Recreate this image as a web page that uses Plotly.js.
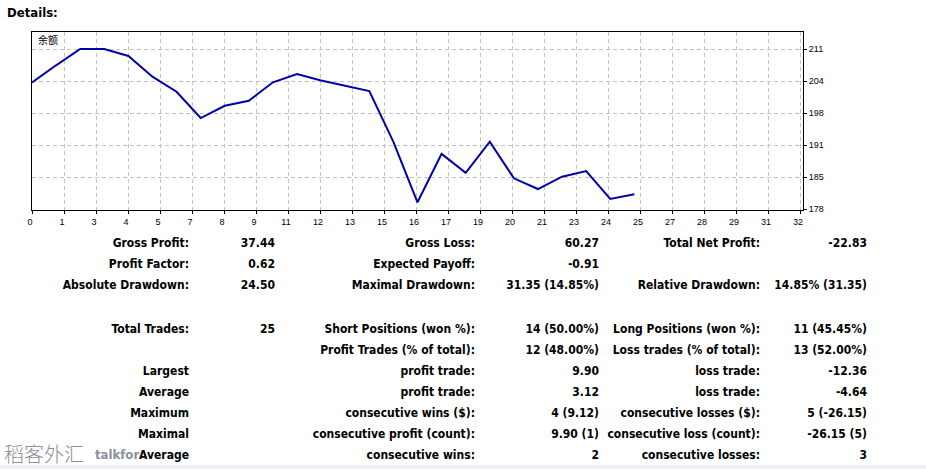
<!DOCTYPE html>
<html>
<head>
<meta charset="utf-8">
<script src="https://cdn.plot.ly/plotly-3.0.1.min.js"></script>
<style>
  html, body { margin:0; padding:0; background:#ffffff; }
  #page { position:relative; width:926px; height:469px; overflow:hidden; background:#fff; }
  #chart { position:absolute; left:0; top:0; width:926px; height:235px; }
  .t { position:absolute; white-space:nowrap; line-height:16px; height:16px;
       font-family:"DejaVu Sans Condensed","DejaVu Sans",sans-serif; font-weight:bold;
       font-size:12px; color:#000; }
  #band { position:absolute; left:0; top:465px; width:926px; height:4px; background:#eeeef2; }
</style>
</head>
<body>
<div id="page">
  <div id="chart"></div>
  <div id="band"></div>
</div>
<script>
// ---- data ----
const trades = [0,1,2,3,4,5,6,7,8,9,10,11,12,13,14,15,16,17,18,19,20,21,22,23,24,25];
const balance = [204.25,207.77,211.10,211.10,209.67,205.44,202.37,196.99,199.50,200.53,
                 204.29,205.99,204.66,203.60,202.51,192.11,179.75,189.65,185.80,192.14,
                 184.66,182.47,184.99,186.15,180.43,181.42];
const xTickText = ["0","1","3","4","5","7","8","9","11","12","13","15","16","17","19","20",
                   "21","23","24","25","27","28","29","31","32"];
const yTickText = ["178","185","191","198","204","211"];
const seriesName = "余额";
const detailsTitle = "Details:";

const statLabels1 = ["Gross Profit:","Profit Factor:","Absolute Drawdown:","Total Trades:","","Largest","Average","Maximum","Maximal","Average"];
const statValues1 = ["37.44","0.62","24.50","25","","","","","",""];
const statLabels2 = ["Gross Loss:","Expected Payoff:","Maximal Drawdown:","Short Positions (won %):","Profit Trades (% of total):","profit trade:","profit trade:","consecutive wins ($):","consecutive profit (count):","consecutive wins:"];
const statValues2 = ["60.27","-0.91","31.35 (14.85%)","14 (50.00%)","12 (48.00%)","9.90","3.12","4 (9.12)","9.90 (1)","2"];
const statLabels3 = ["Total Net Profit:","","Relative Drawdown:","Long Positions (won %):","Loss trades (% of total):","loss trade:","loss trade:","consecutive losses ($):","consecutive loss (count):","consecutive losses:"];
const statValues3 = ["-22.83","","14.85% (31.35)","11 (45.45%)","13 (52.00%)","-12.36","-4.64","5 (-26.15)","-26.15 (5)","3"];

// ---- layout constants ----
const xMax = 32;
const xGridStep = 32 * xMax / 771;           // grid every 32 px
const xTickVals = xTickText.map((_, i) => i * xGridStep);
const yLo = 178.18, yHi = 214.58;
const yGridStart = 178.32, yGridStep = 6.544;
const yTickVals = yTickText.map((_, i) => yGridStart + i * yGridStep);

const trace = {
  x: trades, y: balance, type: 'scatter', mode: 'lines',
  line: { color: '#0000aa', width: 2 }, hoverinfo: 'skip', showlegend: false
};

const tickFont = { family: 'Liberation Sans, Arial, sans-serif', size: 9, color: '#000' };

const layout = {
  width: 926, height: 235,
  margin: { l: 32, r: 123, t: 32, b: 25, pad: 0 },
  paper_bgcolor: '#ffffff', plot_bgcolor: '#ffffff',
  showlegend: false,
  xaxis: {
    range: [0, xMax], tickmode: 'array', tickvals: xTickVals, ticktext: xTickText,
    showgrid: true, gridcolor: '#c4c4c4', gridwidth: 1, griddash: '4px,3px',
    showline: true, linecolor: '#000', linewidth: 1, mirror: true,
    ticks: 'outside', ticklen: 3, tickcolor: '#000', tickwidth: 1,
    tickfont: tickFont, zeroline: false, fixedrange: true, ticklabelshift: -2
  },
  yaxis: {
    side: 'right', range: [yLo, yHi], tickmode: 'array', tickvals: yTickVals, ticktext: yTickText,
    showgrid: true, gridcolor: '#c4c4c4', gridwidth: 1, griddash: '4px,3px',
    showline: true, linecolor: '#000', linewidth: 1, mirror: true,
    ticks: 'outside', ticklen: 3, tickcolor: '#000', tickwidth: 1,
    tickfont: tickFont, zeroline: false, fixedrange: true
  },
  annotations: [{
    text: seriesName, xref: 'paper', yref: 'paper', x: 4/771, y: 1 - 7/178,
    xanchor: 'left', yanchor: 'middle', showarrow: false,
    font: { family: 'Noto Sans CJK SC, sans-serif', size: 10, color: '#000' }
  }]
};

Plotly.newPlot('chart', [trace], layout, { displayModeBar: false, staticPlot: true });

// ---- text blocks ----
const page = document.getElementById('page');
function place(text, rightEdge, centerY, extra) {
  if (!text) return;
  const d = document.createElement('div');
  d.className = 't';
  d.textContent = text;
  d.style.right = (926 - rightEdge) + 'px';
  d.style.top = (centerY - 8) + 'px';
  if (extra) Object.assign(d.style, extra);
  page.appendChild(d);
}
function placeLeft(text, leftEdge, centerY, extra) {
  const d = document.createElement('div');
  d.className = 't';
  d.textContent = text;
  d.style.left = leftEdge + 'px';
  d.style.top = (centerY - 8) + 'px';
  if (extra) Object.assign(d.style, extra);
  page.appendChild(d);
}

// watermark (behind)
placeLeft('稻客外汇', 4, 455, { fontFamily: 'Noto Sans CJK SC, sans-serif', fontWeight: '300', fontSize: '20px', color: '#8a9099', lineHeight: '24px', height: '24px', top: '442px' });
placeLeft('talkfor', 95, 455, { color: '#8a9099', fontSize: '13px' });

placeLeft(detailsTitle, 7, 13, { fontSize: '13px' });

const rowY = [243, 264, 285, 328.5, 349.5, 370.5, 391.5, 412.5, 433.5, 454.5];
const colRight = [189, 275, 475, 599, 760, 867];
rowY.forEach((y, r) => {
  place(statLabels1[r], colRight[0], y);
  place(statValues1[r], colRight[1], y);
  place(statLabels2[r], colRight[2], y);
  place(statValues2[r], colRight[3], y);
  place(statLabels3[r], colRight[4], y);
  place(statValues3[r], colRight[5], y);
});
</script>
</body>
</html>
